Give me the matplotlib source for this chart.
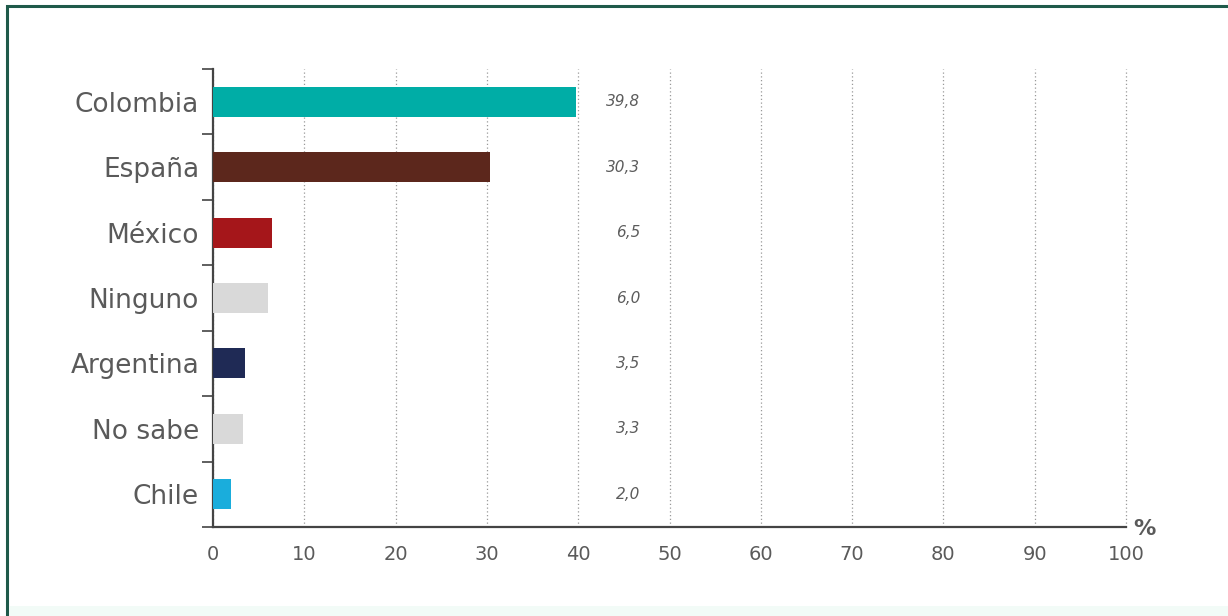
import matplotlib.pyplot as plt
from matplotlib.patches import Rectangle

# Países citados (porcentaje de respuestas)
paises = ["Colombia", "España", "México", "Ninguno", "Argentina", "No sabe", "Chile"]
valores = [39.8, 30.3, 6.5, 6.0, 3.5, 3.3, 2.0]
colores = ["#00ada6", "#5c271c", "#a5161a", "#d9d9d9", "#1f2a55", "#d9d9d9", "#1aaddc"]
xticks = [0, 10, 20, 30, 40, 50, 60, 70, 80, 90, 100]

plt.rcParams['font.family'] = ['DejaVu Sans Condensed', 'DejaVu Sans']
gris = "#5a5a5a"

fig = plt.figure(figsize=(12.28, 6.16), dpi=100)

# marco verde del recuadro
fig.patches.append(Rectangle((7 / 1228, -0.1), 1.2, (616 - 6) / 616 + 0.1,
                             transform=fig.transFigure, fill=False,
                             edgecolor="#1f5a4a", linewidth=2.2))
fig.patches.append(Rectangle((9 / 1228, 0), 1.0, 10 / 616,
                             transform=fig.transFigure, facecolor="#f2fbf7",
                             edgecolor="none"))

ax = fig.add_axes([213 / 1228, 1 - 527 / 616, 913 / 1228, 458 / 616])

y = list(range(len(paises)))
ax.barh(y, valores, height=0.46, color=colores, zorder=3)

ax.set_xlim(0, 100)
ax.set_ylim(len(paises) - 0.5, -0.5)

# etiquetas de valor, alineadas en una columna
for yi, v in zip(y, valores):
    ax.text(46.8, yi, f"{v:.1f}".replace(".", ","), ha="right", va="center",
            fontsize=11, style="italic", color="#5c5c5c")

ax.set_xticks(xticks)
ax.set_xticklabels([str(t) for t in xticks], fontsize=14, color=gris)
ax.tick_params(axis="x", length=0, pad=13)

ax.set_yticks(y)
ax.set_yticklabels(paises, fontsize=19, color=gris)
ax.set_yticks([i - 0.5 for i in range(len(paises) + 1)], minor=True)
ax.tick_params(axis="y", which="major", length=0, pad=10)
ax.tick_params(axis="y", which="minor", length=8, width=1.2, color="#444444")

ax.grid(axis="x", linestyle=(0, (1, 2)), color="#999999", linewidth=0.9, zorder=0)
for gl in ax.get_xgridlines():
    gl.set_clip_on(False)
for s in ["top", "right"]:
    ax.spines[s].set_visible(False)
for s in ["left", "bottom"]:
    ax.spines[s].set_color("#444444")
    ax.spines[s].set_linewidth(1.6)

ax.text(1.008, -0.004, "%", transform=ax.transAxes, ha="left", va="center",
        fontsize=16, fontweight="bold", color=gris, family=['DejaVu Sans'])

fig.savefig("out.png", dpi=100)
